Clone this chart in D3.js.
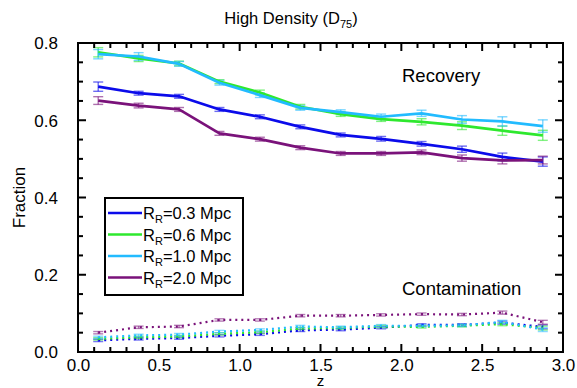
<!DOCTYPE html>
<html>
<head>
<meta charset="utf-8">
<script src="https://cdn.jsdelivr.net/npm/d3@7"></script>
<style>
  html, body { margin: 0; padding: 0; background: #fff; }
  svg { display: block; font-family: "Liberation Sans", Arial, Helvetica, sans-serif; }
</style>
</head>
<body>
<div id="chart"></div>
<script>
// redshift bins
const zBins = [0.125, 0.375, 0.625, 0.875, 1.125, 1.375, 1.625, 1.875, 2.125, 2.375, 2.625, 2.875];

const seriesNames = ["0.3", "0.6", "1.0", "2.0"];
const seriesColors = ["#0b0bea", "#2ee82e", "#22bbff", "#7a127a"];

// recovery fractions
const recovery03 = [0.687, 0.670, 0.662, 0.628, 0.609, 0.583, 0.562, 0.552, 0.539, 0.525, 0.505, 0.493];
const recovery06 = [0.776, 0.760, 0.747, 0.700, 0.672, 0.635, 0.616, 0.603, 0.596, 0.586, 0.573, 0.561];
const recovery10 = [0.771, 0.765, 0.746, 0.697, 0.665, 0.632, 0.621, 0.609, 0.618, 0.602, 0.597, 0.585];
const recovery20 = [0.651, 0.638, 0.628, 0.566, 0.551, 0.529, 0.514, 0.514, 0.517, 0.502, 0.496, 0.497];

const recErr03 = [0.012, 0.005, 0.005, 0.005, 0.005, 0.005, 0.005, 0.006, 0.006, 0.008, 0.010, 0.012];
const recErr06 = [0.012, 0.008, 0.006, 0.005, 0.006, 0.006, 0.006, 0.006, 0.008, 0.010, 0.012, 0.013];
const recErr10 = [0.012, 0.010, 0.006, 0.006, 0.006, 0.006, 0.006, 0.007, 0.008, 0.010, 0.012, 0.016];
const recErr20 = [0.010, 0.006, 0.005, 0.005, 0.005, 0.005, 0.005, 0.005, 0.006, 0.008, 0.009, 0.010];

// contamination fractions
const contam03 = [0.030, 0.034, 0.036, 0.042, 0.046, 0.056, 0.058, 0.063, 0.070, 0.070, 0.076, 0.065];
const contam06 = [0.034, 0.038, 0.040, 0.047, 0.051, 0.061, 0.062, 0.066, 0.065, 0.068, 0.072, 0.062];
const contam10 = [0.038, 0.043, 0.045, 0.053, 0.057, 0.066, 0.064, 0.068, 0.068, 0.069, 0.078, 0.058];
const contam20 = [0.050, 0.064, 0.066, 0.083, 0.083, 0.094, 0.094, 0.096, 0.098, 0.097, 0.102, 0.077];
const contamErr = [0.003, 0.003, 0.003, 0.003, 0.003, 0.003, 0.003, 0.003, 0.003, 0.003, 0.004, 0.005];

const xTicks = [0, 0.5, 1.0, 1.5, 2.0, 2.5, 3.0];
const yTicks = [0, 0.2, 0.4, 0.6, 0.8];

const recovery = [recovery03, recovery06, recovery10, recovery20];
const recErrs = [recErr03, recErr06, recErr10, recErr20];
const contam = [contam03, contam06, contam10, contam20];

const width = 577, height = 388;
const margin = { top: 43, right: 14, bottom: 36, left: 78 };

const svg = d3.select("#chart").append("svg")
  .attr("width", width)
  .attr("height", height);

const x = d3.scaleLinear().domain([0, 3]).range([margin.left, width - margin.right]);
const y = d3.scaleLinear().domain([0, 0.8]).range([height - margin.bottom, margin.top]);

const line = d3.line()
  .x((d) => x(d[0]))
  .y((d) => y(d[1]));

// error bars (drawn under the lines)
function errorBars(vals, errs, color, opacity) {
  const g = svg.append("g")
    .attr("stroke", color)
    .attr("stroke-width", 1.4)
    .attr("stroke-opacity", opacity)
    .attr("fill", "none");
  vals.forEach((v, i) => {
    const cx = x(zBins[i]);
    const y0 = y(v - errs[i]), y1 = y(v + errs[i]);
    g.append("line").attr("x1", cx).attr("x2", cx).attr("y1", y0).attr("y2", y1);
    g.append("line").attr("x1", cx - 5).attr("x2", cx + 5).attr("y1", y0).attr("y2", y0);
    g.append("line").attr("x1", cx - 5).attr("x2", cx + 5).attr("y1", y1).attr("y2", y1);
  });
}

recovery.forEach((vals, s) => errorBars(vals, recErrs[s], seriesColors[s], 0.6));
contam.forEach((vals, s) => errorBars(vals, contamErr, seriesColors[s], 0.55));

// recovery lines
recovery.forEach((vals, s) => {
  svg.append("path")
    .datum(vals.map((v, i) => [zBins[i], v]))
    .attr("d", line)
    .attr("fill", "none")
    .attr("stroke", seriesColors[s])
    .attr("stroke-width", 2.7)
    .attr("stroke-linejoin", "round");
});

// contamination lines (dotted)
contam.forEach((vals, s) => {
  svg.append("path")
    .datum(vals.map((v, i) => [zBins[i], v]))
    .attr("d", line)
    .attr("fill", "none")
    .attr("stroke", seriesColors[s])
    .attr("stroke-width", 2.2)
    .attr("stroke-dasharray", "2,4");
});

// frame + ticks on all sides, pointing inward
const tickG = svg.append("g").attr("stroke", "#000").attr("stroke-width", 2);
const xMinor = d3.range(0, 31).map((d) => d / 10);
const yMinor = d3.range(0, 17).map((d) => d / 20);
xMinor.forEach((t) => {
  const major = Math.abs(t * 2 - Math.round(t * 2)) < 1e-6;
  const len = major ? 8 : 5;
  tickG.append("line").attr("x1", x(t)).attr("x2", x(t)).attr("y1", y(0)).attr("y2", y(0) - len);
  tickG.append("line").attr("x1", x(t)).attr("x2", x(t)).attr("y1", y(0.8)).attr("y2", y(0.8) + len);
});
yMinor.forEach((t) => {
  const major = Math.abs(t * 5 - Math.round(t * 5)) < 1e-6;
  const len = major ? 8 : 5;
  tickG.append("line").attr("x1", x(0)).attr("x2", x(0) + len).attr("y1", y(t)).attr("y2", y(t));
  tickG.append("line").attr("x1", x(3)).attr("x2", x(3) - len).attr("y1", y(t)).attr("y2", y(t));
});
svg.append("rect")
  .attr("x", x(0)).attr("y", y(0.8))
  .attr("width", x(3) - x(0)).attr("height", y(0) - y(0.8))
  .attr("fill", "none").attr("stroke", "#000").attr("stroke-width", 2);

// tick labels via axes (ticks hidden, labels kept)
const xAxis = svg.append("g")
  .attr("transform", `translate(0,${y(0)})`)
  .call(d3.axisBottom(x).tickValues(xTicks).tickFormat(d3.format(".1f")).tickSize(0).tickPadding(7));
const yAxis = svg.append("g")
  .attr("transform", `translate(${x(0)},0)`)
  .call(d3.axisLeft(y).tickValues(yTicks).tickFormat(d3.format(".1f")).tickSize(0).tickPadding(20));
[xAxis, yAxis].forEach((a) => {
  a.select(".domain").remove();
  a.selectAll("text")
    .attr("fill", "#000")
    .style("font-family", "Liberation Sans, Arial, sans-serif")
    .style("font-size", "17px");
});
yAxis.selectAll("text").attr("dy", "0.35em");

// axis titles
svg.append("text")
  .attr("x", x(1.5)).attr("y", 386)
  .attr("text-anchor", "middle")
  .style("font-size", "15px")
  .text("z");
svg.append("text")
  .attr("transform", `translate(25,${(y(0) + y(0.8)) / 2}) rotate(-90)`)
  .attr("text-anchor", "middle")
  .style("font-size", "17px")
  .text("Fraction");

// title
const title = svg.append("text")
  .attr("x", 291).attr("y", 24)
  .attr("text-anchor", "middle")
  .style("font-size", "16.5px")
  .text("High Density (D");
title.append("tspan").attr("dy", 4).style("font-size", "11px").text("75");
title.append("tspan").attr("dy", -4).text(")");

// annotations
svg.append("text")
  .attr("x", 402).attr("y", 82)
  .style("font-size", "18.5px")
  .text("Recovery");
svg.append("text")
  .attr("x", 402).attr("y", 295)
  .style("font-size", "18.5px")
  .text("Contamination");

// legend
const legend = svg.append("g");
legend.append("rect")
  .attr("x", 105).attr("y", 198)
  .attr("width", 138).attr("height", 97)
  .attr("fill", "#fff").attr("stroke", "#000").attr("stroke-width", 2);
seriesNames.forEach((name, i) => {
  const ly = 213 + i * 21.5;
  legend.append("line")
    .attr("x1", 108).attr("x2", 142)
    .attr("y1", ly).attr("y2", ly)
    .attr("stroke", seriesColors[i]).attr("stroke-width", 2.7);
  const t = legend.append("text")
    .attr("x", 143).attr("y", ly + 6)
    .style("font-size", "16.5px")
    .text("R");
  t.append("tspan").attr("dy", 4).style("font-size", "11px").text("R");
  t.append("tspan").attr("dy", -4).text("=" + name + " Mpc");
});
</script>
</body>
</html>
